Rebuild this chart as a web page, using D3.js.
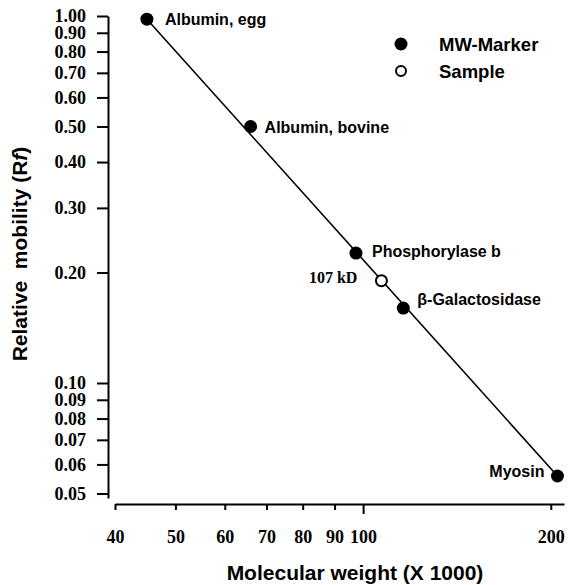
<!DOCTYPE html>
<html>
<head>
<meta charset="utf-8">
<script src="https://cdn.jsdelivr.net/npm/d3@7"></script>
<style>
  body { margin: 0; background: #fff; }
  svg { display: block; }
</style>
</head>
<body>
<div id="chart"></div>
<script>
// MW markers (kD) and their relative mobility
var markerNames = ["Albumin, egg", "Albumin, bovine", "Phosphorylase b", "\u03b2-Galactosidase", "Myosin"];
var markerMW = [45, 66, 97.4, 116, 205];
var markerRf = [0.98, 0.50, 0.226, 0.160, 0.0558];

// unknown sample
var sampleLabels = ["107 kD"];
var sampleMW = [107];
var sampleRf = [0.19];

// calibration line end points
var fitMW = [45, 205];
var fitRf = [0.98, 0.0558];

var xTicks = [40, 50, 60, 70, 80, 90, 100, 200];
var yTicks = [1.00, 0.90, 0.80, 0.70, 0.60, 0.50, 0.40, 0.30, 0.20, 0.10, 0.09, 0.08, 0.07, 0.06, 0.05];
var legendLabels = ["MW-Marker", "Sample"];

var W = 568, H = 585;
var sans = "'Liberation Sans', Arial, sans-serif";
var serif = "'Liberation Serif', 'Times New Roman', serif";

var svg = d3.select("#chart").append("svg")
  .attr("width", W)
  .attr("height", H);

var x = d3.scaleLog().domain([40, 210]).range([115, 564]);
var y = d3.scaleLog().domain([0.0486, 1]).range([498, 16]);

// y axis
var yAxis = svg.append("g")
  .attr("transform", "translate(108,0)")
  .call(d3.axisLeft(y).tickValues(yTicks).tickFormat(d3.format(".2f"))
    .tickSize(11).tickSizeOuter(0).tickPadding(11));

// x axis
var xAxis = svg.append("g")
  .attr("transform", "translate(0,504)")
  .call(d3.axisBottom(x).tickValues(xTicks).tickFormat(d3.format("d"))
    .tickSize(6).tickSizeOuter(0).tickPadding(20));

xAxis.selectAll(".tick line").filter(function(d) { return d === 100; }).attr("y2", 10);

[xAxis, yAxis].forEach(function(ax) {
  ax.select(".domain").attr("stroke-width", 2);
  ax.selectAll(".tick line").attr("stroke-width", 2);
  ax.selectAll(".tick text")
    .attr("fill", "#000")
    .style("font-family", serif)
    .style("font-size", "18px")
    .style("font-weight", "bold");
});

// axis titles
svg.append("text")
  .attr("x", 355)
  .attr("y", 580)
  .attr("text-anchor", "middle")
  .style("font-family", sans)
  .style("font-size", "21px")
  .style("font-weight", "bold")
  .text("Molecular weight (X 1000)");

var yt = svg.append("text")
  .attr("transform", "translate(27,254) rotate(-90)")
  .attr("text-anchor", "middle")
  .style("font-family", sans)
  .style("font-size", "21px")
  .style("font-weight", "bold")
  .style("white-space", "pre")
  .attr("xml:space", "preserve");
yt.append("tspan").text("Relative  mobility (R");
yt.append("tspan").style("font-style", "italic").text("f");
yt.append("tspan").text(")");

// calibration line
var line = d3.line()
  .x(function(d) { return x(d[0]); })
  .y(function(d) { return y(d[1]); });

svg.append("path")
  .datum(d3.zip(fitMW, fitRf))
  .attr("fill", "none")
  .attr("stroke", "#000")
  .attr("stroke-width", 1.6)
  .attr("d", line);

// markers
var markers = markerNames.map(function(n, i) { return { name: n, mw: markerMW[i], rf: markerRf[i] }; });

svg.selectAll(".marker")
  .data(markers)
  .enter().append("circle")
  .attr("class", "marker")
  .attr("cx", function(d) { return x(d.mw); })
  .attr("cy", function(d) { return y(d.rf); })
  .attr("r", 6.5)
  .attr("fill", "#000");

// label offsets next to each marker
var labelDx = [18, 14, 16, 14, -13];
var labelDy = [6, 7, 4, -3, 1];

svg.selectAll(".mlabel")
  .data(markers)
  .enter().append("text")
  .attr("class", "mlabel")
  .attr("x", function(d, i) { return x(d.mw) + labelDx[i]; })
  .attr("y", function(d, i) { return y(d.rf) + labelDy[i]; })
  .attr("text-anchor", function(d, i) { return labelDx[i] < 0 ? "end" : "start"; })
  .style("font-family", sans)
  .style("font-size", "16px")
  .style("font-weight", "bold")
  .text(function(d) { return d.name; });

// sample
svg.selectAll(".sample")
  .data(sampleMW)
  .enter().append("circle")
  .attr("class", "sample")
  .attr("cx", function(d) { return x(d); })
  .attr("cy", function(d, i) { return y(sampleRf[i]); })
  .attr("r", 5.5)
  .attr("fill", "#fff")
  .attr("stroke", "#000")
  .attr("stroke-width", 2);

svg.selectAll(".slabel")
  .data(sampleMW)
  .enter().append("text")
  .attr("class", "slabel")
  .attr("x", function(d) { return x(d) - 24; })
  .attr("y", function(d, i) { return y(sampleRf[i]) + 2; })
  .attr("text-anchor", "end")
  .style("font-family", serif)
  .style("font-size", "16px")
  .style("font-weight", "bold")
  .text(function(d, i) { return sampleLabels[i]; });

// legend
var legend = svg.selectAll(".legend")
  .data(legendLabels)
  .enter().append("g")
  .attr("class", "legend")
  .attr("transform", function(d, i) { return "translate(401," + (44 + i * 27) + ")"; });

legend.append("circle")
  .attr("r", function(d, i) { return i === 0 ? 6.5 : 5; })
  .attr("fill", function(d, i) { return i === 0 ? "#000" : "#fff"; })
  .attr("stroke", "#000")
  .attr("stroke-width", function(d, i) { return i === 0 ? 0 : 2; });

legend.append("text")
  .attr("x", 38)
  .attr("y", 7)
  .style("font-family", sans)
  .style("font-size", "18.5px")
  .style("font-weight", "bold")
  .text(function(d) { return d; });
</script>
</body>
</html>
